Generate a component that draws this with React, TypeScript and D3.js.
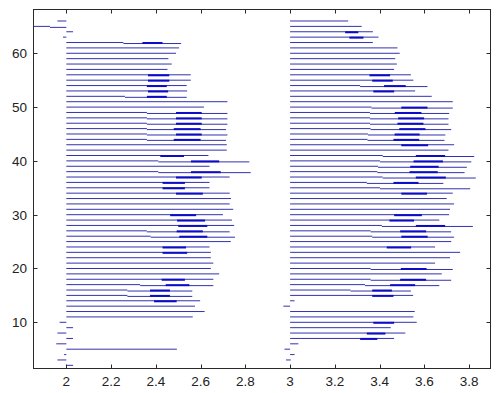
import * as d3 from "d3";

// rows of the left block (starting near x = 2)
const leftRows = [
  2, 3, 4, 5, 6, 7, 8, 9, 10, 11, 12, 13, 14, 15, 16, 17, 18, 19, 20, 21, 22,
  23, 24, 25, 26, 27, 28, 29, 30, 31, 32, 33, 34, 35, 36, 37, 38, 39, 40, 41,
  42, 43, 44, 45, 46, 47, 48, 49, 50, 51, 52, 53, 54, 55, 56, 57, 58, 59, 60,
  61, 62, 63, 64, 65, 66,
];
const leftStart = [
  2.0, 1.96, 1.99, 2.0, 1.955, 2.0, 1.96, 2.0, 1.97, 2.0, 2.0, 2.0, 2.0, 2.0,
  2.0, 2.0, 2.0, 2.0, 2.0, 2.0, 2.0, 2.0, 2.0, 2.0, 2.0, 2.0, 2.0, 2.0, 2.0,
  2.0, 2.0, 2.0, 2.0, 2.0, 2.0, 2.0, 2.0, 2.0, 2.0, 2.0, 2.0, 2.0, 2.0, 2.0,
  2.0, 2.0, 2.0, 2.0, 2.0, 2.0, 2.0, 2.0, 2.0, 2.0, 2.0, 2.0, 2.0, 2.0, 2.0,
  2.0, 2.0, 1.985, 2.0, 1.83, 1.96,
];
const leftEnd = [
  2.03, 2.0, 2.0, 2.494, 2.0, 2.03, 2.0, 2.03, 2.0, 2.565, 2.618, 2.575, 2.598,
  2.563, 2.563, 2.657, 2.657, 2.683, 2.646, 2.657, 2.646, 2.646, 2.64, 2.735,
  2.754, 2.73, 2.75, 2.74, 2.7, 2.746, 2.73, 2.736, 2.73, 2.64, 2.64, 2.73,
  2.824, 2.64, 2.818, 2.635, 2.717, 2.717, 2.714, 2.72, 2.714, 2.72, 2.72,
  2.72, 2.615, 2.72, 2.538, 2.54, 2.538, 2.556, 2.556, 2.452, 2.471, 2.456,
  2.49, 2.504, 2.513, 2.0, 2.03, 2.0, 2.0,
];
// [row, x where the line steps]
const leftSplits = [
  [15, 2.273], [16, 2.273], [17, 2.33], [26, 2.377], [27, 2.36], [38, 2.411],
  [40, 2.411], [44, 2.36], [45, 2.36], [46, 2.36], [47, 2.36], [48, 2.36],
  [49, 2.36], [52, 2.262], [62, 2.255], [65, 1.927],
];
// [row, from, to] for the heavy pieces
const leftBold = [
  [14, 2.392, 2.493], [15, 2.374, 2.463], [16, 2.374, 2.463], [17, 2.444, 2.55],
  [18, 2.426, 2.53], [23, 2.43, 2.54], [24, 2.43, 2.535], [26, 2.505, 2.63],
  [27, 2.493, 2.61], [28, 2.5, 2.63], [29, 2.495, 2.62], [30, 2.464, 2.58],
  [34, 2.49, 2.61], [35, 2.43, 2.53], [36, 2.43, 2.53], [37, 2.49, 2.605],
  [38, 2.557, 2.69], [40, 2.557, 2.683], [41, 2.42, 2.526], [44, 2.48, 2.6],
  [45, 2.49, 2.605], [46, 2.48, 2.6], [47, 2.49, 2.605], [48, 2.49, 2.605],
  [49, 2.49, 2.605], [52, 2.36, 2.449], [53, 2.365, 2.455], [54, 2.36, 2.449],
  [55, 2.365, 2.46], [56, 2.365, 2.46], [62, 2.34, 2.43],
];

// rows of the right block (starting near x = 3)
const rightRows = [
  3, 4, 5, 6, 7, 8, 9, 10, 11, 12, 13, 14, 15, 16, 17, 18, 19, 20, 21, 22, 23,
  24, 25, 26, 27, 28, 29, 30, 31, 32, 33, 34, 35, 36, 37, 38, 39, 40, 41, 42,
  43, 44, 45, 46, 47, 48, 49, 50, 51, 52, 53, 54, 55, 56, 57, 58, 59, 60, 61,
  62, 63, 64, 65, 66,
];
const rightStart = [
  2.982, 3.0, 2.975, 3.0, 3.0, 3.0, 3.0, 3.0, 3.0, 3.0, 2.97, 3.0, 3.0, 3.0,
  3.0, 3.0, 3.0, 3.0, 3.0, 3.0, 3.0, 3.0, 3.0, 3.0, 3.0, 3.0, 3.0, 3.0, 3.0,
  3.0, 3.0, 3.0, 3.0, 3.0, 3.0, 3.0, 3.0, 3.0, 3.0, 3.0, 3.0, 3.0, 3.0, 3.0,
  3.0, 3.0, 3.0, 3.0, 3.0, 3.0, 3.0, 3.0, 3.0, 3.0, 3.0, 3.0, 3.0, 3.0, 3.0,
  3.0, 3.0, 3.0, 3.0, 3.0,
];
const rightEnd = [
  3.003, 3.02, 3.0, 3.037, 3.465, 3.515, 3.45, 3.566, 3.551, 3.557, 3.0, 3.02,
  3.55, 3.54, 3.667, 3.72, 3.678, 3.727, 3.648, 3.715, 3.76, 3.648, 3.72,
  3.733, 3.72, 3.817, 3.667, 3.711, 3.715, 3.733, 3.7, 3.727, 3.805, 3.685,
  3.83, 3.78, 3.79, 3.81, 3.823, 3.708, 3.733, 3.69, 3.694, 3.72, 3.708,
  3.708, 3.711, 3.727, 3.727, 3.633, 3.559, 3.614, 3.551, 3.54, 3.465, 3.477,
  3.47, 3.49, 3.48, 3.37, 3.395, 3.37, 3.32, 3.26,
];
const rightSplits = [
  [16, 3.27], [17, 3.335], [18, 3.36], [20, 3.36], [26, 3.367], [27, 3.36],
  [28, 3.41], [35, 3.402], [36, 3.343], [37, 3.414], [38, 3.39], [39, 3.393],
  [40, 3.402], [41, 3.414], [44, 3.346], [45, 3.348], [46, 3.36], [47, 3.357],
  [48, 3.357], [49, 3.357], [50, 3.364], [54, 3.313],
];
const rightBold = [
  [7, 3.313, 3.39], [8, 3.343, 3.426], [10, 3.372, 3.465], [15, 3.367, 3.462],
  [16, 3.367, 3.455], [17, 3.447, 3.559], [18, 3.492, 3.608], [20, 3.495, 3.61],
  [24, 3.432, 3.541], [26, 3.497, 3.615], [27, 3.492, 3.608], [28, 3.562, 3.693],
  [29, 3.444, 3.554], [30, 3.465, 3.589], [34, 3.497, 3.612], [36, 3.462, 3.574],
  [37, 3.562, 3.696], [38, 3.534, 3.66], [39, 3.537, 3.664], [40, 3.552, 3.683],
  [41, 3.562, 3.693], [43, 3.497, 3.617], [44, 3.462, 3.577], [45, 3.467, 3.579],
  [46, 3.488, 3.605], [47, 3.48, 3.596], [48, 3.483, 3.599], [49, 3.468, 3.587],
  [50, 3.497, 3.614], [53, 3.372, 3.465], [54, 3.42, 3.517], [55, 3.367, 3.459],
  [56, 3.355, 3.447], [63, 3.265, 3.328], [64, 3.246, 3.305],
];

const xTicks = [2, 2.2, 2.4, 2.6, 2.8, 3, 3.2, 3.4, 3.6, 3.8];
const yTicks = [10, 20, 30, 40, 50, 60];

const width = 499;
const height = 393;
const plot = { left: 33, right: 491, top: 9, bottom: 369 };

const thin = "#3232ae";
const heavy = "#0c0cc8";
const font = "'Liberation Sans', Arial, sans-serif";

function Block({ rows, starts, ends, splits, bold, x, y }) {
  const splitAt = new Map(splits.map((s) => [s[0], s[1]]));
  return (
    <g>
      {rows.map((r, i) => {
        const s = splitAt.get(r);
        const yy = y(r);
        if (s === undefined) {
          return (
            <line key={r} x1={x(starts[i])} x2={x(ends[i])} y1={yy} y2={yy}
              stroke={thin} strokeWidth={1} />
          );
        }
        return (
          <g key={r}>
            <line x1={x(starts[i])} x2={x(s)} y1={yy} y2={yy} stroke={thin} strokeWidth={1} />
            <line x1={x(s)} x2={x(ends[i])} y1={yy + 1} y2={yy + 1} stroke={thin} strokeWidth={1} />
          </g>
        );
      })}
      {bold.map((b) => (
        <line key={"b" + b[0]} x1={x(b[1])} x2={x(b[2])} y1={y(b[0]) + 0.5} y2={y(b[0]) + 0.5}
          stroke={heavy} strokeWidth={2} />
      ))}
    </g>
  );
}

export default function App() {
  const x = d3.scaleLinear().domain([1.851, 3.898]).range([plot.left, plot.right]);
  const y = d3.scaleLinear().domain([1.32, 68.23]).range([plot.bottom, plot.top]);
  const tick = 4.5;

  return (
    <svg width={width} height={height}
      style={{ position: "absolute", left: 0, top: 0, background: "#fff" }}>
      <defs>
        <clipPath id="plotclip">
          <rect x={plot.left} y={plot.top} width={plot.right - plot.left} height={plot.bottom - plot.top} />
        </clipPath>
      </defs>
      <rect width={width} height={height} fill="#fff" />
      <g clipPath="url(#plotclip)">
        <Block rows={leftRows} starts={leftStart} ends={leftEnd} splits={leftSplits} bold={leftBold} x={x} y={y} />
        <Block rows={rightRows} starts={rightStart} ends={rightEnd} splits={rightSplits} bold={rightBold} x={x} y={y} />
      </g>

      {/* box */}
      <rect x={plot.left + 0.5} y={plot.top + 0.5} width={plot.right - plot.left - 1}
        height={plot.bottom - plot.top - 1} fill="none" stroke="#2a2a2a" strokeWidth={1} />

      {xTicks.map((t) => {
        const px = Math.round(x(t)) + 0.5;
        return (
          <g key={"x" + t}>
            <line x1={px} x2={px} y1={plot.bottom} y2={plot.bottom - tick} stroke="#2a2a2a" />
            <line x1={px} x2={px} y1={plot.top} y2={plot.top + tick} stroke="#2a2a2a" />
            <text x={x(t)} y={386} textAnchor="middle" fontFamily={font} fontSize={13.5} fill="#222">
              {String(t)}
            </text>
          </g>
        );
      })}
      {yTicks.map((t) => {
        const py = Math.round(y(t)) + 0.5;
        return (
          <g key={"y" + t}>
            <line x1={plot.left} x2={plot.left + tick} y1={py} y2={py} stroke="#2a2a2a" />
            <line x1={plot.right} x2={plot.right - tick} y1={py} y2={py} stroke="#2a2a2a" />
            <text x={27} y={y(t) + 5} textAnchor="end" fontFamily={font} fontSize={13.5} fill="#222">
              {String(t)}
            </text>
          </g>
        );
      })}
    </svg>
  );
}
